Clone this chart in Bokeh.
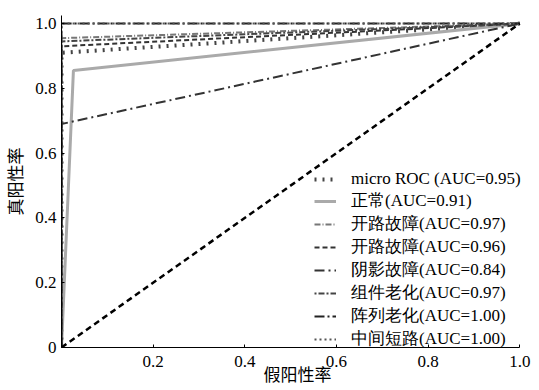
from bokeh.plotting import figure
from bokeh.models import FixedTicker, Range1d, Legend, LegendItem, PrintfTickFormatter
from bokeh.embed import file_html
from bokeh.resources import INLINE

# ---- data ----
series_names = ["micro ROC (AUC=0.95)", "正常(AUC=0.91)", "开路故障(AUC=0.97)", "开路故障(AUC=0.96)",
                "阴影故障(AUC=0.84)", "组件老化(AUC=0.97)", "阵列老化(AUC=1.00)", "中间短路(AUC=1.00)"]
fpr_micro = [0.0, 0.0, 1.0]
tpr_micro = [0.0, 0.91, 1.0]
fpr_normal = [0.0, 0.026, 1.0]
tpr_normal = [0.0, 0.855, 1.0]
fpr_open1 = [0.0, 0.0, 1.0]
tpr_open1 = [0.0, 0.955, 1.0]
fpr_open2 = [0.0, 0.0, 1.0]
tpr_open2 = [0.0, 0.93, 1.0]
fpr_shade = [0.0, 0.0, 1.0]
tpr_shade = [0.0, 0.69, 1.0]
fpr_module = [0.0, 0.0, 1.0]
tpr_module = [0.0, 0.945, 1.0]
fpr_array = [0.0, 0.0, 1.0]
tpr_array = [0.0, 1.0, 1.0]
fpr_short = [0.0, 0.0, 1.0]
tpr_short = [0.0, 1.0, 1.0]
diag_x = [0.0, 1.0]
diag_y = [0.0, 1.0]
x_ticks = [0.2, 0.4, 0.6, 0.8, 1.0]
y_ticks = [0.0, 0.2, 0.4, 0.6, 0.8, 1.0]

SERIF = "'Liberation Serif', 'Noto Sans CJK SC'"

p = figure(width=539, height=390, output_backend="svg", toolbar_location=None,
           x_range=Range1d(0, 1.03), y_range=Range1d(0, 1.025),
           min_border_left=61, min_border_right=6, min_border_top=15, min_border_bottom=43)
p.outline_line_color = None
p.grid.grid_line_color = None

styles = [
    (fpr_micro, tpr_micro, dict(line_color="#444444", line_width=4, line_dash="2 6")),
    (fpr_normal, tpr_normal, dict(line_color="#aaaaaa", line_width=3)),
    (fpr_open1, tpr_open1, dict(line_color="#777777", line_width=2, line_dash="6 2 1 2")),
    (fpr_open2, tpr_open2, dict(line_color="#333333", line_width=2, line_dash="5 3")),
    (fpr_shade, tpr_shade, dict(line_color="#333333", line_width=2, line_dash="10 4 2 4")),
    (fpr_module, tpr_module, dict(line_color="#444444", line_width=2, line_dash="2 2 6 2")),
    (fpr_array, tpr_array, dict(line_color="#222222", line_width=2, line_dash="10 3 2 3")),
    (fpr_short, tpr_short, dict(line_color="#555555", line_width=2, line_dash="2 3")),
]
items = []
for (xs, ys, st), name in zip(styles, series_names):
    r = p.line(xs, ys, **st)
    items.append(LegendItem(label=name, renderers=[r]))

p.line(diag_x, diag_y, line_color="black", line_width=2.5, line_dash="6 4")

legend = Legend(items=items, location=(253, -3))
legend.background_fill_alpha = 0
legend.border_line_color = None
legend.padding = 0
legend.margin = 0
legend.spacing = 0
legend.label_height = 20
legend.glyph_height = 20
legend.glyph_width = 22
legend.label_width = 160
legend.label_standoff = 15
legend.label_text_font = "'Liberation Serif'"
legend.label_text_font_size = "17px"
legend.label_text_color = "black"
p.add_layout(legend, "center")

for ax in (p.xaxis[0], p.yaxis[0]):
    ax.axis_line_color = "black"
    ax.major_tick_in = 3
    ax.major_tick_out = 0
    ax.minor_tick_line_color = None
    ax.major_label_text_font = "'Liberation Serif'"
    ax.major_label_text_font_size = "17px"
    ax.major_label_text_color = "black"
    ax.axis_label_text_font = SERIF
    ax.axis_label_text_font_size = "17px"
    ax.axis_label_text_font_style = "normal"
    ax.axis_label_text_color = "black"
    ax.formatter = PrintfTickFormatter(format="%.1f")

p.xaxis[0].bounds = (0, 1)
p.xaxis[0].ticker = FixedTicker(ticks=x_ticks)
p.yaxis[0].ticker = FixedTicker(ticks=y_ticks)
p.yaxis[0].major_label_overrides = {0: "0"}
p.xaxis[0].major_label_standoff = 8
p.yaxis[0].major_label_standoff = 5
p.xaxis[0].axis_label = "假阳性率"
p.yaxis[0].axis_label = "真阳性率"
p.xaxis[0].axis_label_standoff = -4
p.yaxis[0].axis_label_standoff = 6

open("out.html", "w").write(file_html(p, INLINE))
